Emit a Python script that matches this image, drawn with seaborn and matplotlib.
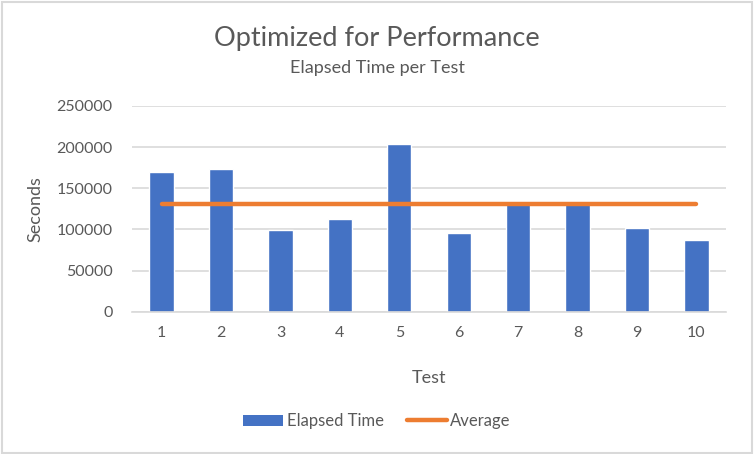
import numpy as np
import pandas as pd
import seaborn as sns
import matplotlib.pyplot as plt
from matplotlib.patches import Patch, Rectangle
from matplotlib.lines import Line2D

# values
tests = ["1", "2", "3", "4", "5", "6", "7", "8", "9", "10"]
elapsed = [169400, 173000, 98900, 112200, 203400, 95200, 133000, 133000, 101300, 86700]
yticks = [0, 50000, 100000, 150000, 200000, 250000]

df = pd.DataFrame({"Test": tests, "Elapsed Time": elapsed})
avg = np.mean(elapsed)

sns.set_style("white")
plt.rcParams["font.family"] = ["Lato", "DejaVu Sans"]
txt = "#595959"
grid = "#D9D9D9"

fig = plt.figure(figsize=(7.54, 4.54), dpi=100)
ax = fig.add_axes([0.175, 0.313, 0.788, 0.454])

sns.barplot(data=df, x="Test", y="Elapsed Time", color="#4472C4",
            width=0.41, saturation=1, ax=ax, zorder=2)
sns.lineplot(x=np.arange(len(tests)), y=[avg] * len(tests), color="#ED7D31",
             linewidth=3.2, ax=ax, zorder=3, solid_capstyle="round")

ax.set_ylim(0, 250000)
ax.set_yticks(yticks)
ax.set_yticklabels([str(v) for v in yticks])
ax.set_xlim(-0.5, len(tests) - 0.5)
ax.yaxis.grid(True, color=grid, linewidth=1.2, zorder=0)
ax.set_axisbelow(True)
for s in ["top", "right", "left"]:
    ax.spines[s].set_visible(False)
ax.spines["bottom"].set_color(grid)
ax.spines["bottom"].set_linewidth(1.2)
ax.tick_params(axis="both", length=0, labelsize=11.5, colors=txt, pad=10)
ax.tick_params(axis="y", pad=14)

ax.set_xlabel("Test", fontsize=13, color=txt, labelpad=22)
ax.set_ylabel("Seconds", fontsize=13, color=txt, labelpad=9)

fig.text(0.5, 0.916, "Optimized for Performance", ha="center", va="center",
         fontsize=19.5, color=txt)
fig.text(0.5, 0.850, "Elapsed Time per Test", ha="center", va="center",
         fontsize=13, color=txt)

handles = [Patch(facecolor="#4472C4", edgecolor="none"),
           Line2D([], [], color="#ED7D31", linewidth=3.2)]
fig.legend(handles, ["Elapsed Time", "Average"], loc="center",
           bbox_to_anchor=(0.5, 0.072), ncol=2, frameon=False, fontsize=12,
           labelcolor=txt, handlelength=2.4, handletextpad=0.2, columnspacing=1.4)

# light border around the chart
fig.patches.append(Rectangle((0.002, 0.003), 0.995, 0.993, transform=fig.transFigure,
                             fill=False, edgecolor=grid, linewidth=1.5))

fig.savefig("out.png", dpi=100)
